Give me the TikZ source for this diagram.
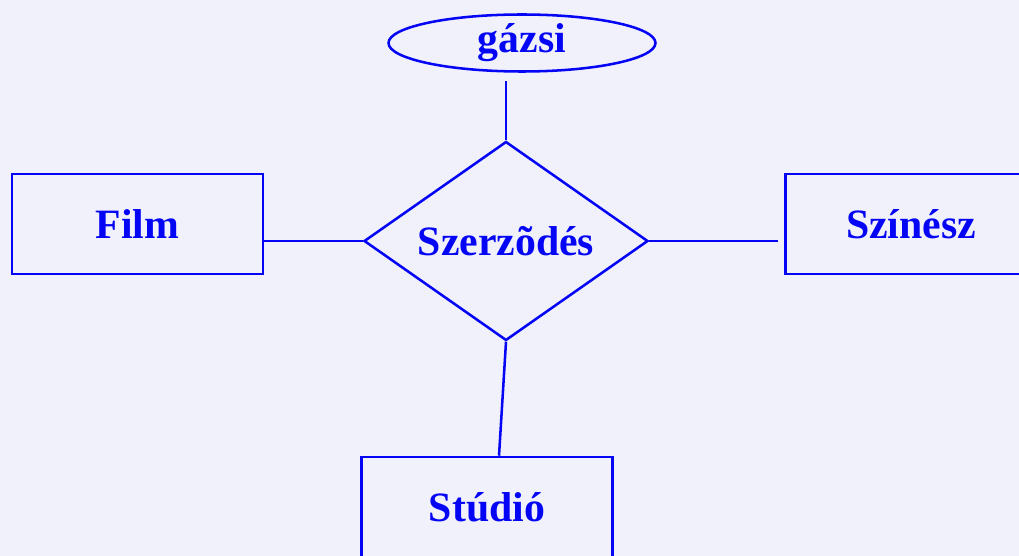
\documentclass[tikz,border=0pt]{standalone}
\usepackage{fontspec}
\setmainfont{Liberation Serif}
\usetikzlibrary{shapes.geometric}
\definecolor{erblue}{RGB}{5,5,245}
\definecolor{erback}{RGB}{241,241,252}
\tikzset{
  erline/.style={draw=erblue, line width=1.8pt},
  entity/.style={erline, rectangle, minimum width=251*0.025cm, minimum height=100*0.025cm, inner sep=0pt},
  attrib/.style={erline, ellipse, minimum width=267*0.025cm, minimum height=57*0.025cm, inner sep=0pt},
  relship/.style={erline, diamond, aspect=1.43, minimum width=284*0.025cm, minimum height=199*0.025cm, inner sep=0pt},
}
\begin{document}
\begin{tikzpicture}[x=0.025cm, y=-0.025cm,
    every node/.style={text=erblue, font=\fontsize{29.7}{32}\selectfont\bfseries}]
  \fill[erback] (0,0) rectangle (1019,556);
  \useasboundingbox (0,0) rectangle (1019,556);
  \node[attrib] (gazsi) at (522,43) {gázsi};
  \node[relship] (szerz) at (506,241) {Szerzõdés};
  \node[entity] (film) at (137.5,224) {Film};
  \node[entity] (szinesz) at (911,224) {Színész};
  \node[entity] (studio) at (487,507) {Stúdió};
  \begin{scope}[erline]
    \draw (film.east |- szerz.west) -- (szerz.west);
    \draw (szerz.east) -- ([xshift=-0.15cm]szinesz.west |- szerz.east);
    \draw ([shift={(-16,8)}]gazsi.south) -- (szerz.north);
    \draw (szerz.south) -- ([xshift=0.3cm]studio.north);
  \end{scope}
\end{tikzpicture}
\end{document}
